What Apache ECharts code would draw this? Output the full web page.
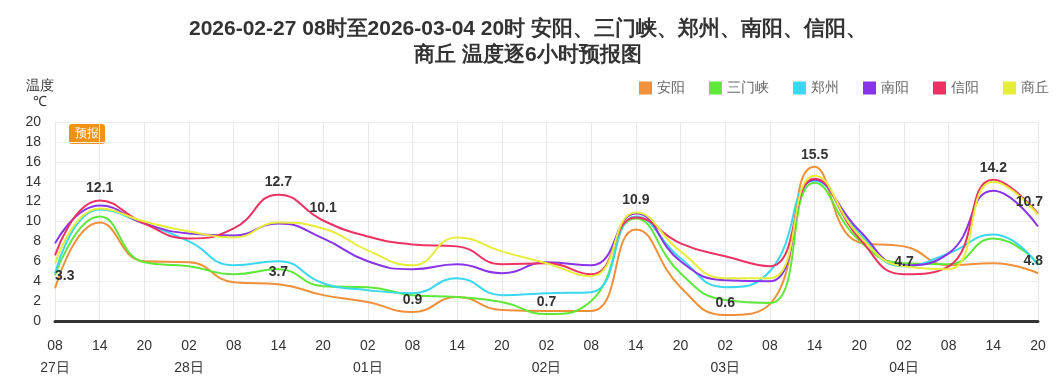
<!DOCTYPE html>
<html><head><meta charset="utf-8">
<script src="https://cdn.jsdelivr.net/npm/echarts@6/dist/echarts.min.js"></script>
<style>html,body{margin:0;padding:0;background:#fff}#c{width:1056px;height:389px}</style>
</head><body><div id="c"></div>
<script>
const titleText = '2026-02-27 08时至2026-03-04 20时 安阳、三门峡、郑州、南阳、信阳、\n商丘 温度逐6小时预报图';
const categories = ['08\n27日','14','20','02\n28日','08','14','20','02\n01日','08','14','20','02\n02日','08','14','20','02\n03日','08','14','20','02\n04日','08','14','20'];
const seriesNames = ['安阳','三门峡','郑州','南阳','信阳','商丘'];
const colors = ['#f0903a','#5ee83a','#3ad8ee','#8a34ea','#ee3364','#e6ee3a'];
const anyang    = [3.3, 9.9, 6.0, 5.9, 3.9, 3.7, 2.6, 1.9, 0.9, 2.4, 1.1, 1.0, 1.0, 9.2, 3.4, 0.6, 1.7, 15.5, 7.9, 7.5, 5.6, 5.8, 4.8];
const sanmenxia = [4.6, 10.5, 5.9, 5.5, 4.7, 5.2, 3.5, 3.4, 2.6, 2.4, 1.9, 0.7, 2.0, 10.3, 4.8, 2.1, 1.8, 13.9, 8.1, 5.8, 5.7, 8.3, 5.8];
const zhengzhou = [4.8, 11.2, 9.8, 8.0, 5.6, 6.0, 3.8, 3.1, 2.8, 4.3, 2.6, 2.8, 2.9, 10.5, 6.3, 3.4, 5.0, 14.1, 8.8, 5.5, 6.8, 8.7, 5.6];
const nanyang   = [7.8, 11.6, 9.8, 8.8, 8.6, 9.8, 8.3, 6.0, 5.2, 5.7, 4.8, 5.9, 5.6, 10.8, 6.0, 4.1, 4.0, 14.2, 9.1, 5.6, 6.8, 13.1, 9.5];
const xinyang   = [6.6, 12.1, 9.8, 8.3, 9.3, 12.7, 10.1, 8.5, 7.7, 7.5, 5.7, 5.8, 4.7, 10.4, 7.8, 6.5, 5.5, 14.3, 8.3, 4.7, 5.5, 14.2, 10.8];
const shangqiu  = [5.8, 11.3, 10.0, 9.0, 8.4, 9.9, 9.3, 7.1, 5.6, 8.4, 7.0, 5.8, 4.5, 10.9, 7.0, 4.3, 4.3, 14.6, 8.6, 5.5, 5.2, 14.0, 10.7];
const allValues = [anyang, sanmenxia, zhengzhou, nanyang, xinyang, shangqiu];
// labelled points: [series index, data index]
const labelled = [[0,0],[4,1],[0,5],[4,5],[4,6],[0,8],[1,11],[5,13],[0,15],[0,17],[4,19],[4,21],[5,22],[0,22]];

const chart = echarts.init(document.getElementById('c'));
const series = seriesNames.map((name, si) => ({
  name, type: 'line', smooth: 0.5, symbol: 'circle', symbolSize: 0, showSymbol: true,
  lineStyle: { width: 2, color: colors[si] }, itemStyle: { color: colors[si] },
  label: { show: false },
  data: allValues[si].map((v, di) => {
    const hit = labelled.some(p => p[0] === si && p[1] === di);
    if (!hit) return v;
    const lab = { show: true, position: 'top', distance: 5, color: '#333', fontWeight: 'bold', fontSize: 14, formatter: '{c}' };
    if (di === 0) { lab.align = 'left'; lab.offset = [0, 0]; }
    if (di === categories.length - 1) { lab.align = 'right'; lab.offset = [5, 0]; }
    return { value: v, label: lab };
  })
}));

chart.setOption({
  animation: false,
  color: colors,
  title: { text: titleText, left: 'center', top: 11, textStyle: { fontSize: 21, fontWeight: 'bold', color: '#333', lineHeight: 26 } },
  legend: { right: 2, top: 76, itemWidth: 13, itemHeight: 13, itemGap: 24, icon: 'rect', textStyle: { fontSize: 14, color: '#666' }, data: seriesNames },
  grid: { left: 55, right: 18, top: 122, bottom: 68 },
  xAxis: {
    type: 'category', data: categories, boundaryGap: false,
    axisLine: { show: true, lineStyle: { color: '#333', width: 3 } },
    axisTick: { show: false },
    axisLabel: { color: '#333', fontSize: 14, margin: 14, lineHeight: 22, interval: 0 },
    splitLine: { show: true, lineStyle: { color: '#e8e8e8' } }
  },
  yAxis: {
    type: 'value', min: 0, max: 20, interval: 2,
    name: '温度\n℃', nameLocation: 'end', nameGap: 12,
    nameTextStyle: { color: '#333', fontSize: 14, align: 'center', padding: [0, 30, 0, 0], lineHeight: 16 },
    axisLine: { show: false }, axisTick: { show: false },
    axisLabel: { color: '#333', fontSize: 14, margin: 14 },
    splitLine: { show: true, lineStyle: { color: '#eeeeee' } }
  },
  graphic: [{
    type: 'group', left: 69, top: 124, children: [
      { type: 'rect', shape: { x: 0, y: 0, width: 36, height: 20, r: 3 }, style: { fill: '#f39212' } },
      { type: 'text', style: { x: 18, y: 10, text: '预报', fill: '#fff', fontSize: 12, align: 'center', verticalAlign: 'middle' } }
    ]
  }],
  series
});
</script></body></html>
